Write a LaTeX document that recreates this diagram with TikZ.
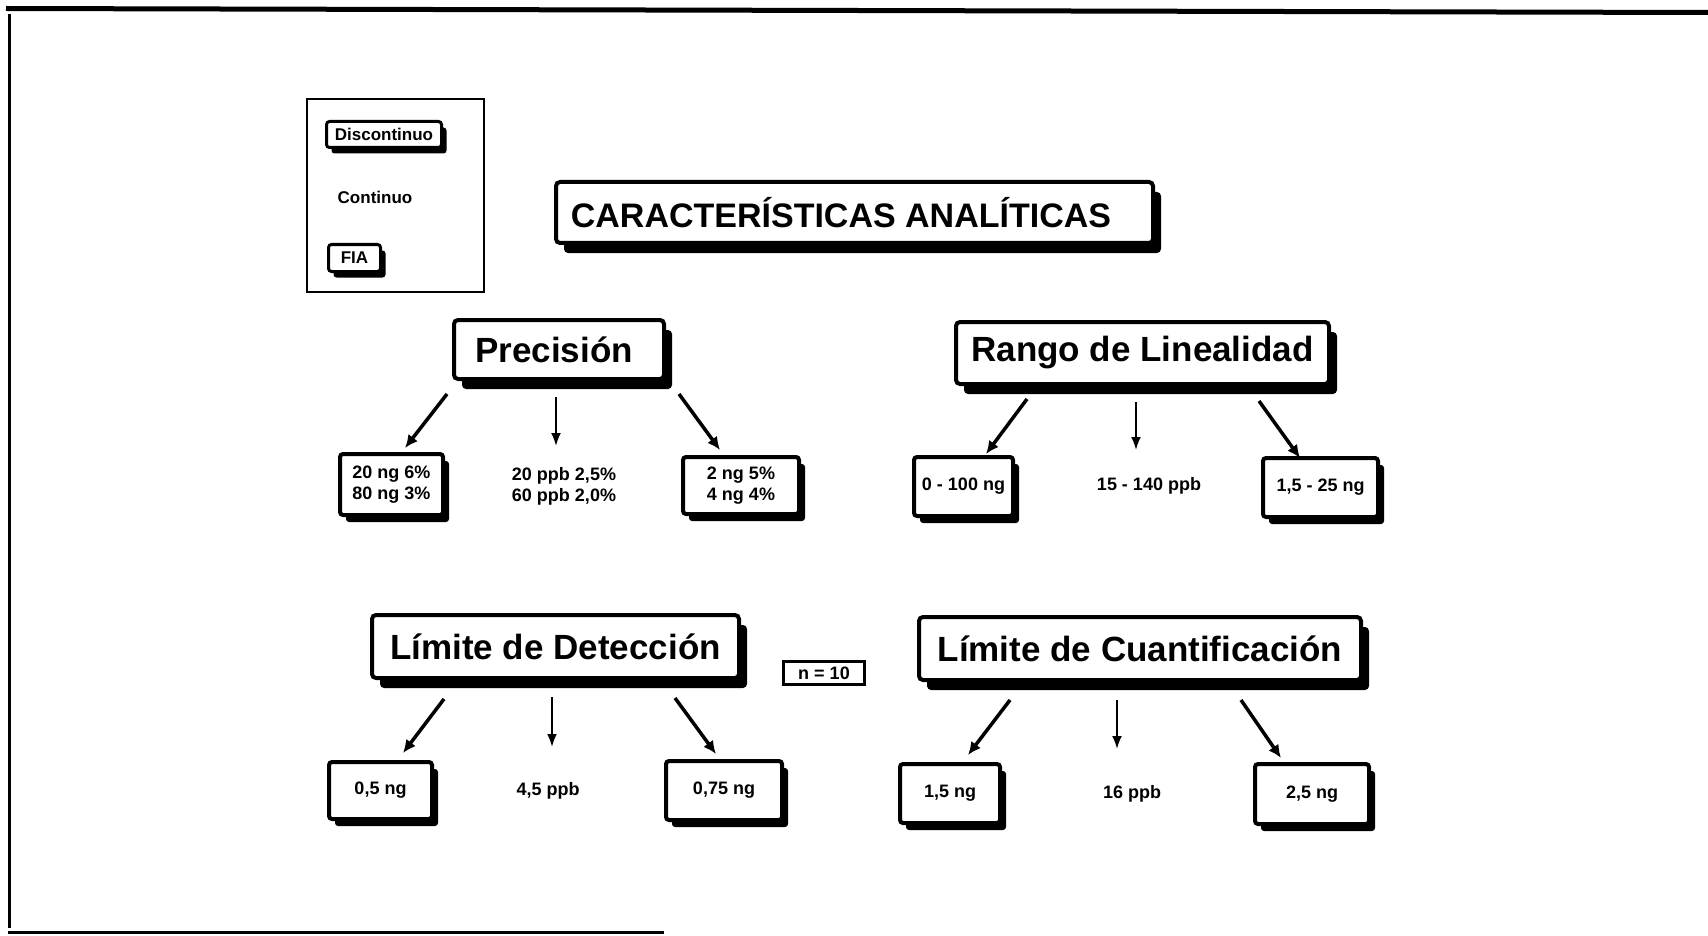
\documentclass[tikz,border=0pt]{standalone}
\usepackage{fontspec}
\setmainfont{Liberation Sans}
\usetikzlibrary{shadows,arrows.meta}
\begin{document}
\begin{tikzpicture}[x=1pt,y=-1pt,
  bigbox/.style={draw=black, line width=4pt, fill=white, rounded corners=4pt, inner sep=0pt,
    drop shadow={shadow xshift=8pt, shadow yshift=-10pt, fill=black, opacity=1},
    font=\fontsize{35}{40}\selectfont\bfseries},
  smallbox/.style={draw=black, line width=4pt, fill=white, rounded corners=3pt, inner sep=0pt, align=center,
    drop shadow={shadow xshift=6pt, shadow yshift=-7pt, fill=black, opacity=1},
    font=\fontsize{18}{21}\selectfont\bfseries},
  legbox/.style={draw=black, line width=3pt, fill=white, rounded corners=3pt, inner sep=0pt,
    drop shadow={shadow xshift=5pt, shadow yshift=-6pt, fill=black, opacity=1},
    font=\fontsize{17}{20}\selectfont\bfseries},
  plain/.style={inner sep=0pt, align=center, font=\fontsize{18}{21}\selectfont\bfseries},
  arr/.style={line width=3.5pt, -{Latex[length=13pt,width=12pt]}},
  varr/.style={line width=2pt, -{Latex[length=13pt,width=10pt]}},
  frameline/.style={line width=4pt}
]
\useasboundingbox (0,0) rectangle (1708,936);
\fill[white] (0,0) rectangle (1708,936);

% outer frame
\draw[line width=5pt] (6,8.5) -- (1708,12.5);
\draw[line width=3.5pt] (9.5,14) -- (9.5,928);
\draw[line width=3pt] (8,932.5) -- (664,932.5);

% legend
\draw[line width=2pt] (307,99) rectangle (484,292);
\node[legbox, minimum width=115pt, minimum height=26pt] (disc) at (384,134.5) {Discontinuo};
\node[plain, font=\fontsize{17}{20}\selectfont\bfseries] (cont) at (375,197) {Continuo};
\node[legbox, minimum width=52pt, minimum height=27pt] (fia) at (354.5,258) {FIA};

% title
\node[bigbox, font=\fontsize{34}{40}\selectfont\bfseries, minimum width=597pt, minimum height=61pt] (title) at (854.5,212.5) {CARACTERÍSTICAS ANALÍTICAS\hspace*{27pt}};

% section heads
\node[bigbox, minimum width=210pt, minimum height=59pt] (prec) at (559,349.5) {Precisión\hspace*{10pt}};
\node[bigbox, minimum width=373pt, minimum height=62pt] (rango) at (1142.5,353) {Rango de Linealidad};
\node[bigbox, minimum width=367pt, minimum height=63pt] (det) at (555.5,646.5) {Límite de Detección};
\node[bigbox, minimum width=442pt, minimum height=63pt] (cuant) at (1140,648.5) {Límite de Cuantificación};

% n = 10
\node[draw=black, line width=3pt, fill=white, inner sep=0pt, minimum width=81pt, minimum height=23pt,
  font=\fontsize{18}{21}\selectfont\bfseries] (n10) at (824,673) {n = 10};

% value boxes, row 1
\node[smallbox, minimum width=103pt, minimum height=61pt] (b1) at (391.5,484.5) {20 ng 6\%\\80 ng 3\%};
\node[plain] (m1) at (564,486) {20 ppb 2,5\%\\60 ppb 2,0\%};
\node[smallbox, minimum width=116pt, minimum height=57pt] (b2) at (741,485.5) {2 ng 5\%\\4 ng 4\%};
\node[smallbox, minimum width=99pt, minimum height=59pt] (b3) at (963.5,486.5) {0 - 100 ng};
\node[plain] (m2) at (1149,486) {15 - 140 ppb};
\node[smallbox, minimum width=115pt, minimum height=59pt] (b4) at (1320.5,487.5) {1,5 - 25 ng};

% value boxes, row 2
\node[smallbox, minimum width=103pt, minimum height=57pt] (b5) at (380.5,790.5) {0,5 ng};
\node[plain] (m3) at (548,791) {4,5 ppb};
\node[smallbox, minimum width=116pt, minimum height=59pt] (b6) at (724,790.5) {0,75 ng};
\node[smallbox, minimum width=100pt, minimum height=59pt] (b7) at (950,793.5) {1,5 ng};
\node[plain] (m4) at (1132,794) {16 ppb};
\node[smallbox, minimum width=114pt, minimum height=60pt] (b8) at (1312,794) {2,5 ng};

% arrow end points
\coordinate (p1s) at (447,394);  \coordinate (p1e) at (405,448);
\coordinate (p2s) at (556,397);  \coordinate (p2e) at (556,446);
\coordinate (p3s) at (679,394);  \coordinate (p3e) at (720,450);
\coordinate (r1s) at (1027,399); \coordinate (r1e) at (986,454);
\coordinate (r2s) at (1136,402); \coordinate (r2e) at (1136,450);
\coordinate (r3s) at (1259,401); \coordinate (r3e) at (1300,458);
\coordinate (d1s) at (444,699);  \coordinate (d1e) at (403,753);
\coordinate (d2s) at (552,697);  \coordinate (d2e) at (552,747);
\coordinate (d3s) at (675,698);  \coordinate (d3e) at (716,754);
\coordinate (c1s) at (1010,700); \coordinate (c1e) at (968,755);
\coordinate (c2s) at (1117,700); \coordinate (c2e) at (1117,749);
\coordinate (c3s) at (1241,700); \coordinate (c3e) at (1281,758);

\draw[arr] (p1s) -- (p1e);
\draw[varr] (p2s) -- (p2e);
\draw[arr] (p3s) -- (p3e);
\draw[arr] (r1s) -- (r1e);
\draw[varr] (r2s) -- (r2e);
\draw[arr] (r3s) -- (r3e);
\draw[arr] (d1s) -- (d1e);
\draw[varr] (d2s) -- (d2e);
\draw[arr] (d3s) -- (d3e);
\draw[arr] (c1s) -- (c1e);
\draw[varr] (c2s) -- (c2e);
\draw[arr] (c3s) -- (c3e);
\end{tikzpicture}
\end{document}
